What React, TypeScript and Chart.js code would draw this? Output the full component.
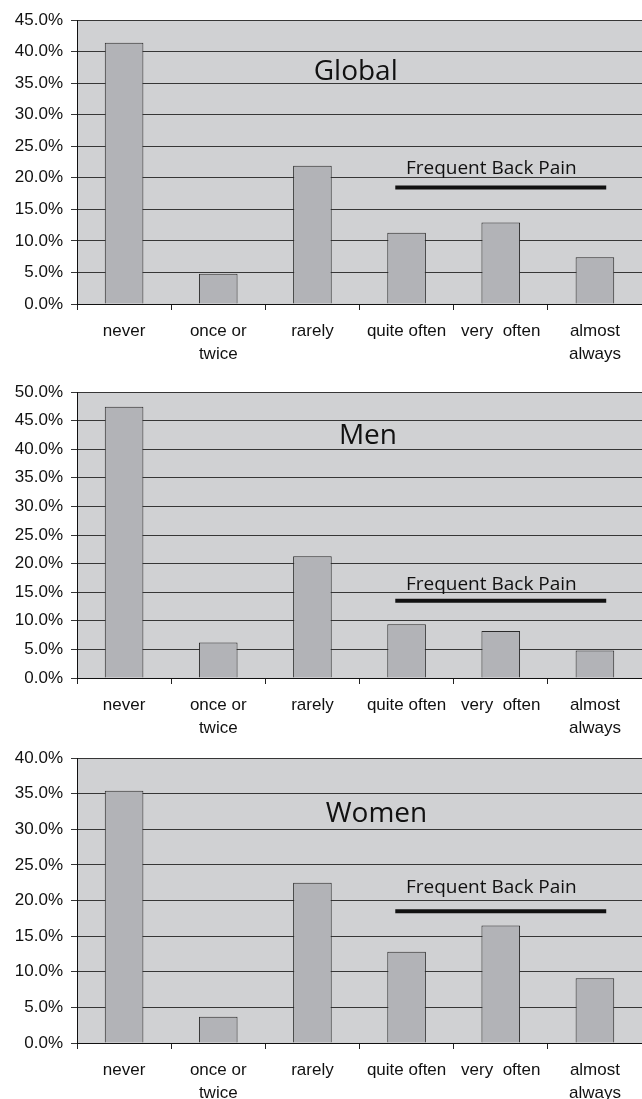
import React, { useEffect, useRef } from "react";
import { Chart, registerables } from "chart.js";

Chart.register(...registerables);

// ---- data ----
const categories: (string | string[])[] = [
  "never",
  ["once or", "twice"],
  "rarely",
  "quite often",
  "very  often",
  ["almost", "always"],
];
const globalValues = [41.4, 4.8, 21.9, 11.3, 12.9, 7.4];
const menValues = [47.4, 6.2, 21.3, 9.4, 8.2, 4.8];
const womenValues = [35.4, 3.7, 22.5, 12.8, 16.5, 9.1];
const seriesList = [globalValues, menValues, womenValues];
const titles = ["Global", "Men", "Women"];
const yMaxes = [45, 50, 40];
const yStep = 5;
const annotationLabel = "Frequent Back Pain";
// annotation positions in data units (category index, percent)
const titleIndex = [2.46, 2.59, 2.68];
const titleValue = [37.1, 42.6, 32.5];
const lineValue = [18.45, 13.5, 18.5];
const labelValue = [21.7, 16.5, 22.0];
const lineFromIndex = 2.88;
const lineToIndex = 5.12;
const labelIndex = 3.9;

// ---- layout ----
const W = 642;
const frames = [
  { top: 0, height: 368, areaTop: 20, areaBottom: 304 },
  { top: 368, height: 368, areaTop: 24, areaBottom: 310 },
  { top: 736, height: 363, areaTop: 22, areaBottom: 307 },
];

const overlayPlugin = {
  id: "overlay",
  beforeDraw(chart: any) {
    const { ctx, chartArea } = chart;
    ctx.save();
    ctx.fillStyle = "#d0d1d3";
    ctx.fillRect(chartArea.left, chartArea.top, chartArea.right - chartArea.left, chartArea.bottom - chartArea.top);
    ctx.restore();
  },
  afterDatasetsDraw(chart: any, _args: any, opts: any) {
    const { ctx } = chart;
    const x = chart.scales.x;
    const y = chart.scales.y;
    ctx.save();
    ctx.fillStyle = "#111";
    ctx.textAlign = "center";
    ctx.textBaseline = "alphabetic";
    const ts = 28;
    ctx.font = `${ts}px 'Open Sans', 'Noto Sans', sans-serif`;
    ctx.fillText(opts.title, x.getPixelForValue(opts.titleIndex), y.getPixelForValue(opts.titleValue) + ts * 0.36);
    const ls = 19;
    ctx.font = `${ls}px 'Open Sans', 'Noto Sans', sans-serif`;
    ctx.fillText(annotationLabel, x.getPixelForValue(labelIndex), y.getPixelForValue(opts.labelValue) + ls * 0.36);
    const ly = y.getPixelForValue(opts.lineValue);
    ctx.strokeStyle = "#111";
    ctx.lineWidth = 4;
    ctx.beginPath();
    ctx.moveTo(x.getPixelForValue(lineFromIndex), ly);
    ctx.lineTo(x.getPixelForValue(lineToIndex), ly);
    ctx.stroke();
    ctx.restore();
  },
};

function BarPanel({ idx }: { idx: number }) {
  const ref = useRef<HTMLCanvasElement | null>(null);
  const f = frames[idx];
  useEffect(() => {
    if (!ref.current) return;
    const tickFont = { family: "'Liberation Sans', Arial, sans-serif", size: 17, lineHeight: 1.35 };
    const chart = new Chart(ref.current, {
      type: "bar",
      data: {
        labels: categories as any,
        datasets: [
          {
            data: seriesList[idx],
            backgroundColor: "#b2b3b7",
            borderColor: "#2a2a2a",
            borderWidth: 1,
            barPercentage: 0.41,
            categoryPercentage: 1,
          },
        ],
      },
      options: {
        responsive: false,
        animation: false,
        devicePixelRatio: 1,
        layout: { padding: { top: f.areaTop, left: 0, right: 0, bottom: 0 } },
        plugins: {
          legend: { display: false },
          tooltip: { enabled: false },
          title: { display: false },
          overlay: {
            title: titles[idx],
            titleIndex: titleIndex[idx],
            titleValue: titleValue[idx],
            lineValue: lineValue[idx],
            labelValue: labelValue[idx],
          },
        } as any,
        scales: {
          x: {
            offset: true,
            grid: {
              offset: true,
              drawOnChartArea: false,
              drawTicks: true,
              tickLength: 6,
              color: "#222",
            },
            border: { display: true, color: "#111", width: 1 },
            ticks: {
              font: tickFont,
              color: "#111",
              padding: 10,
              maxRotation: 0,
              autoSkip: false,
            },
            afterFit: (s: any) => {
              s.height = f.height - f.areaBottom;
            },
          },
          y: {
            min: 0,
            max: yMaxes[idx],
            ticks: {
              stepSize: yStep,
              font: tickFont,
              color: "#111",
              padding: 8,
              callback: (v: any) => Number(v).toFixed(1) + "%",
            },
            grid: { color: "#363636", lineWidth: 1, tickLength: 6, drawTicks: true },
            border: { display: true, color: "#111", width: 1 },
            afterFit: (s: any) => {
              s.width = 77;
            },
          },
        },
      },
      plugins: [overlayPlugin as any],
    });
    return () => chart.destroy();
  }, [idx]);
  return (
    <canvas
      ref={ref}
      width={W}
      height={f.height}
      style={{ position: "absolute", left: 0, top: f.top, width: W, height: f.height }}
    />
  );
}

export default function App() {
  return (
    <div style={{ position: "absolute", left: 0, top: 0, width: W, height: 1099, background: "#fff" }}>
      <BarPanel idx={0} />
      <BarPanel idx={1} />
      <BarPanel idx={2} />
    </div>
  );
}
